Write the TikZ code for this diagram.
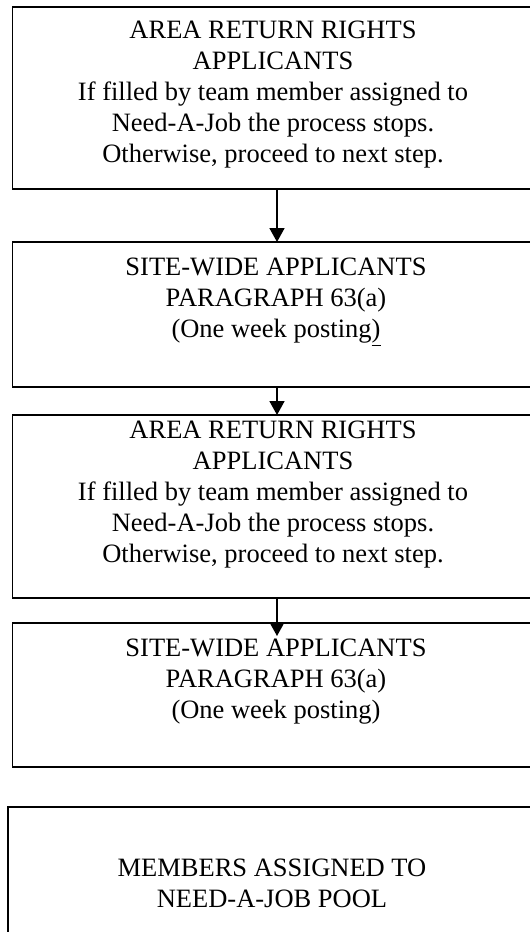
\documentclass[tikz,border=0pt]{standalone}
\usepackage{fontspec}
\setmainfont{Liberation Serif}
\usetikzlibrary{arrows.meta}
\begin{document}
\begin{tikzpicture}[x=1bp,y=-1bp,
  box/.style={draw=black, line width=1.8bp, rectangle, inner sep=0pt, outer sep=0pt},
  txt/.style={align=center, inner sep=0pt, font={\fontsize{26.5bp}{31bp}\selectfont}},
  arr/.style={draw=black, line width=1.8bp, -{Triangle[width=15bp,length=14bp]}}]
\useasboundingbox (0,0) rectangle (530,932);
\clip (0,0) rectangle (530,932);
\node[box, minimum width=529bp, minimum height=182bp] (b1) at (277,98) {};
\node[box, minimum width=529bp, minimum height=145bp] (b2) at (277,314.5) {};
\node[box, minimum width=529bp, minimum height=183bp] (b3) at (277,506.5) {};
\node[box, minimum width=529bp, minimum height=144bp] (b4) at (277,695) {};
\node[box, minimum width=538bp, minimum height=153bp] (b5) at (277,883.5) {};
\node[txt] (t1) at (273,95) {AREA RETURN RIGHTS\\APPLICANTS\\If filled by team member assigned to\\Need-A-Job the process stops.\\Otherwise, proceed to next step.};
\node[txt] (t2) at (276,302) {SITE-WIDE APPLICANTS\\PARAGRAPH 63(a)\\(One week posting\underline{)}};
\node[txt] (t3) at (273,494.5) {AREA RETURN RIGHTS\\APPLICANTS\\If filled by team member assigned to\\Need-A-Job the process stops.\\Otherwise, proceed to next step.};
\node[txt] (t4) at (276,682) {SITE-WIDE APPLICANTS\\PARAGRAPH 63(a)\\(One week posting)};
\node[txt] (t5) at (272,883) {MEMBERS ASSIGNED TO\\NEED-A-JOB POOL};
\draw[arr] (b1.south) -- (b2.north);
\draw[arr] (b2.south) -- (b3.north);
\draw[arr] (b3.south) -- ([yshift=-13bp]b4.north);
\end{tikzpicture}
\end{document}
